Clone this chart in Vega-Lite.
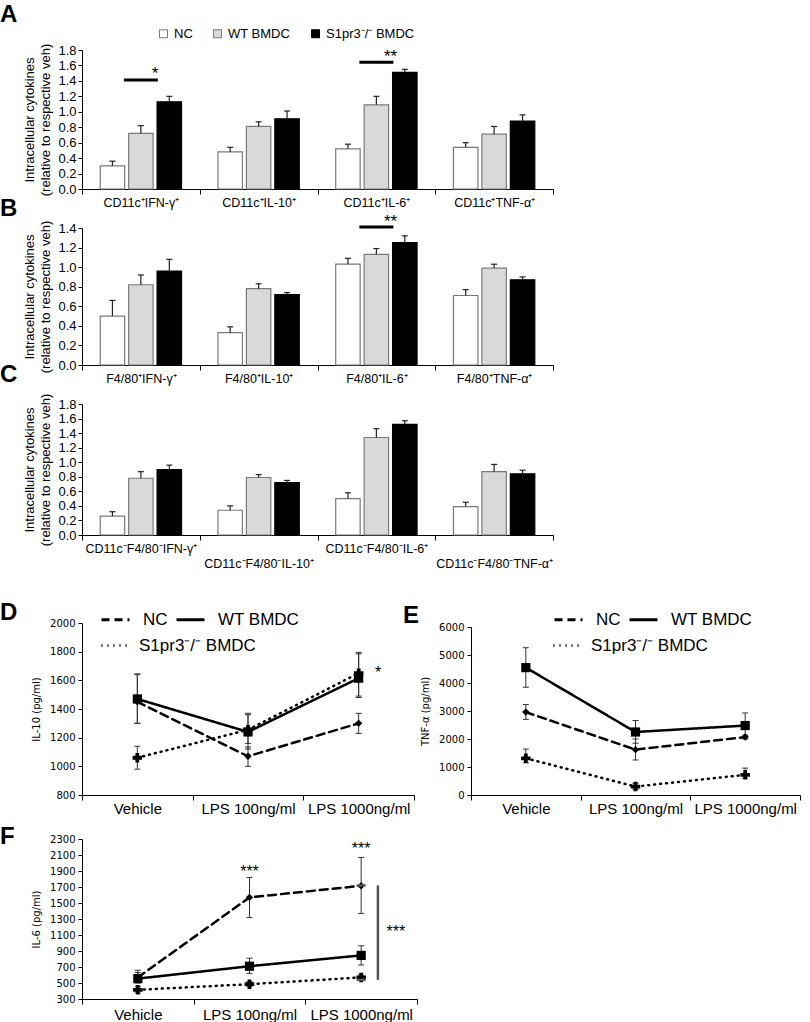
{
"$schema": "https://vega.github.io/schema/vega-lite/v6.json",
"background": "white",
"padding": {"left": 0, "top": 3, "right": 5, "bottom": 5},
"bounds": "flush",
"spacing": 0,
"resolve": {"scale": {"fill": "independent", "stroke": "independent", "shape": "independent", "size": "independent", "strokeDash": "independent"},
            "legend": {"fill": "independent", "stroke": "independent", "shape": "independent", "size": "independent", "strokeDash": "independent"}},
"config": {
  "view": {"stroke": null},
  "font": "Liberation Sans",
  "axis": {"domainColor": "black", "tickColor": "black", "labelColor": "black", "titleColor": "black", "grid": false, "titleFontWeight": "normal"},
  "title": {"fontSize": 24, "fontWeight": "bold", "anchor": "start", "frame": "group", "color": "black"},
  "legend": {"padding": 0, "labelColor": "black"}
},
"vconcat": [
{
 "width": 471, "height": 139,
 "title": {"text": "A", "dx": -82, "offset": 0},
 "data": {"values": [
  {"cat":"CD11c⁺IFN-γ⁺","group":"NC","value":0.30,"hi":0.36},
  {"cat":"CD11c⁺IFN-γ⁺","group":"WT BMDC","value":0.72,"hi":0.82},
  {"cat":"CD11c⁺IFN-γ⁺","group":"S1pr3⁻/⁻ BMDC","value":1.13,"hi":1.20},
  {"cat":"CD11c⁺IL-10⁺","group":"NC","value":0.48,"hi":0.54},
  {"cat":"CD11c⁺IL-10⁺","group":"WT BMDC","value":0.81,"hi":0.87},
  {"cat":"CD11c⁺IL-10⁺","group":"S1pr3⁻/⁻ BMDC","value":0.91,"hi":1.01},
  {"cat":"CD11c⁺IL-6⁺","group":"NC","value":0.52,"hi":0.58},
  {"cat":"CD11c⁺IL-6⁺","group":"WT BMDC","value":1.09,"hi":1.20},
  {"cat":"CD11c⁺IL-6⁺","group":"S1pr3⁻/⁻ BMDC","value":1.51,"hi":1.55},
  {"cat":"CD11c⁺TNF-α⁺","group":"NC","value":0.54,"hi":0.60},
  {"cat":"CD11c⁺TNF-α⁺","group":"WT BMDC","value":0.71,"hi":0.81},
  {"cat":"CD11c⁺TNF-α⁺","group":"S1pr3⁻/⁻ BMDC","value":0.88,"hi":0.96}
 ]},
 "layer": [
  {"mark": {"type": "bar", "strokeWidth": 1.2},
   "encoding": {
    "x": {"field": "cat", "type": "nominal", "scale": {"domain": ["CD11c⁺IFN-γ⁺","CD11c⁺IL-10⁺","CD11c⁺IL-6⁺","CD11c⁺TNF-α⁺"], "paddingInner": 0, "paddingOuter": 0},
          "axis": {"title": null, "tickBand": "extent", "labelAngle": 0, "labelFontSize": 12.5, "labelPadding": 2, "tickSize": 5, "labelOverlap": false, "labelLimit": 0}},
    "xOffset": {"field": "group", "type": "nominal", "scale": {"domain": ["NC","WT BMDC","S1pr3⁻/⁻ BMDC"], "paddingInner": 0.14, "paddingOuter": 0.64}},
    "y": {"field": "value", "type": "quantitative", "scale": {"domain": [0, 1.8], "nice": false},
          "axis": {"title": ["Intracellular cytokines", "(relative to respective veh)"], "titleFontSize": 13, "titleLineHeight": 16, "labelFontSize": 13, "values": [0,0.2,0.4,0.6,0.8,1.0,1.2,1.4,1.6,1.8], "tickCount": 50, "labelOverlap": false, "format": ".1f", "tickSize": 4, "labelPadding": 2, "titlePadding": 5}},
    "fill": {"field": "group", "type": "nominal", "scale": {"domain": ["NC","WT BMDC","S1pr3⁻/⁻ BMDC"], "range": ["#ffffff","#d9d9d9","#000000"]},
             "legend": {"orient": "none", "legendX": 75, "legendY": -23, "direction": "horizontal", "columns": 3, "title": null, "labelFontSize": 13, "symbolType": "square", "symbolSize": 64, "symbolStrokeWidth": 1, "columnPadding": 18, "labelOffset": 4}},
    "stroke": {"field": "group", "type": "nominal", "scale": {"domain": ["NC","WT BMDC","S1pr3⁻/⁻ BMDC"], "range": ["#7a7a7a","#7a7a7a","#000000"]},
             "legend": {"orient": "none", "legendX": 75, "legendY": -23, "direction": "horizontal", "columns": 3, "title": null, "labelFontSize": 13, "symbolType": "square", "symbolSize": 64, "symbolStrokeWidth": 1, "columnPadding": 18, "labelOffset": 4}}
   }},
  {"mark": {"type": "rule", "color": "#222", "strokeWidth": 1.2},
   "encoding": {"x": {"field": "cat", "type": "nominal"}, "xOffset": {"field": "group", "type": "nominal"}, "y": {"field": "value", "type": "quantitative"}, "y2": {"field": "hi"}}},
  {"mark": {"type": "tick", "color": "#222", "size": 6, "thickness": 1.2, "opacity": 1},
   "encoding": {"x": {"field": "cat", "type": "nominal"}, "xOffset": {"field": "group", "type": "nominal"}, "y": {"field": "hi", "type": "quantitative"}}},
  {"data": {"values": [{"cat":"CD11c⁺IFN-γ⁺","y":1.41,"ty":1.42,"lab":"*"},{"cat":"CD11c⁺IL-6⁺","y":1.64,"ty":1.65,"lab":"**"}]},
   "mark": {"type": "tick", "color": "black", "size": 34, "thickness": 3, "opacity": 1},
   "encoding": {"x": {"field": "cat", "type": "nominal", "bandPosition": 0.62}, "y": {"field": "y", "type": "quantitative"}}},
  {"data": {"values": [{"cat":"CD11c⁺IFN-γ⁺","y":1.41,"ty":1.42,"lab":"*"},{"cat":"CD11c⁺IL-6⁺","y":1.64,"ty":1.65,"lab":"**"}]},
   "mark": {"type": "text", "fontSize": 17, "baseline": "alphabetic", "color": "black"},
   "encoding": {"x": {"field": "cat", "type": "nominal", "bandPosition": 0.62}, "y": {"field": "ty", "type": "quantitative"}, "text": {"field": "lab"}}}
 ]
},
{"width": 1, "height": 39, "data": {"values": [{"a": 1}]}, "mark": {"type": "point", "opacity": 0}, "encoding": {}},
{
 "width": 471, "height": 137,
 "title": {"text": "B", "dx": -82, "offset": -8},
 "data": {"values": [
  {"cat":"F4/80⁺IFN-γ⁺","group":"NC","value":0.50,"hi":0.66},
  {"cat":"F4/80⁺IFN-γ⁺","group":"WT BMDC","value":0.82,"hi":0.92},
  {"cat":"F4/80⁺IFN-γ⁺","group":"S1pr3⁻/⁻ BMDC","value":0.96,"hi":1.08},
  {"cat":"F4/80⁺IL-10⁺","group":"NC","value":0.33,"hi":0.39},
  {"cat":"F4/80⁺IL-10⁺","group":"WT BMDC","value":0.78,"hi":0.83},
  {"cat":"F4/80⁺IL-10⁺","group":"S1pr3⁻/⁻ BMDC","value":0.72,"hi":0.74},
  {"cat":"F4/80⁺IL-6⁺","group":"NC","value":1.03,"hi":1.09},
  {"cat":"F4/80⁺IL-6⁺","group":"WT BMDC","value":1.13,"hi":1.19},
  {"cat":"F4/80⁺IL-6⁺","group":"S1pr3⁻/⁻ BMDC","value":1.25,"hi":1.32},
  {"cat":"F4/80⁺TNF-α⁺","group":"NC","value":0.71,"hi":0.77},
  {"cat":"F4/80⁺TNF-α⁺","group":"WT BMDC","value":0.99,"hi":1.03},
  {"cat":"F4/80⁺TNF-α⁺","group":"S1pr3⁻/⁻ BMDC","value":0.87,"hi":0.90}
 ]},
 "layer": [
  {"mark": {"type": "bar", "strokeWidth": 1.2},
   "encoding": {
    "x": {"field": "cat", "type": "nominal", "scale": {"domain": ["F4/80⁺IFN-γ⁺","F4/80⁺IL-10⁺","F4/80⁺IL-6⁺","F4/80⁺TNF-α⁺"], "paddingInner": 0, "paddingOuter": 0},
          "axis": {"title": null, "tickBand": "extent", "labelAngle": 0, "labelFontSize": 12.5, "labelPadding": 2, "tickSize": 5, "labelOverlap": false, "labelLimit": 0}},
    "xOffset": {"field": "group", "type": "nominal", "scale": {"domain": ["NC","WT BMDC","S1pr3⁻/⁻ BMDC"], "paddingInner": 0.14, "paddingOuter": 0.64}},
    "y": {"field": "value", "type": "quantitative", "scale": {"domain": [0, 1.4], "nice": false},
          "axis": {"title": ["Intracellular cytokines", "(relative to respective veh)"], "titleFontSize": 13, "titleLineHeight": 16, "labelFontSize": 13, "values": [0,0.2,0.4,0.6,0.8,1.0,1.2,1.4], "tickCount": 50, "labelOverlap": false, "format": ".1f", "tickSize": 4, "labelPadding": 2, "titlePadding": 5}},
    "fill": {"field": "group", "type": "nominal", "scale": {"domain": ["NC","WT BMDC","S1pr3⁻/⁻ BMDC"], "range": ["#ffffff","#d9d9d9","#000000"]}, "legend": null},
    "stroke": {"field": "group", "type": "nominal", "scale": {"domain": ["NC","WT BMDC","S1pr3⁻/⁻ BMDC"], "range": ["#7a7a7a","#7a7a7a","#000000"]}, "legend": null}
   }},
  {"mark": {"type": "rule", "color": "#222", "strokeWidth": 1.2},
   "encoding": {"x": {"field": "cat", "type": "nominal"}, "xOffset": {"field": "group", "type": "nominal"}, "y": {"field": "value", "type": "quantitative"}, "y2": {"field": "hi"}}},
  {"mark": {"type": "tick", "color": "#222", "size": 6, "thickness": 1.2, "opacity": 1},
   "encoding": {"x": {"field": "cat", "type": "nominal"}, "xOffset": {"field": "group", "type": "nominal"}, "y": {"field": "hi", "type": "quantitative"}}},
  {"data": {"values": [{"cat":"F4/80⁺IL-6⁺","y":1.41,"ty":1.41,"lab":"**"}]},
   "mark": {"type": "tick", "color": "black", "size": 34, "thickness": 3, "opacity": 1},
   "encoding": {"x": {"field": "cat", "type": "nominal", "bandPosition": 0.62}, "y": {"field": "y", "type": "quantitative"}}},
  {"data": {"values": [{"cat":"F4/80⁺IL-6⁺","y":1.41,"ty":1.41,"lab":"**"}]},
   "mark": {"type": "text", "fontSize": 17, "baseline": "alphabetic", "color": "black"},
   "encoding": {"x": {"field": "cat", "type": "nominal", "bandPosition": 0.62}, "y": {"field": "ty", "type": "quantitative"}, "text": {"field": "lab"}}}
 ]
},
{"width": 1, "height": 39, "data": {"values": [{"a": 1}]}, "mark": {"type": "point", "opacity": 0}, "encoding": {}},
{
 "width": 471, "height": 131,
 "title": {"text": "C", "dx": -82, "offset": 6},
 "data": {"values": [
  {"cat":"CD11c⁻F4/80⁻IFN-γ⁺","group":"NC","value":0.26,"hi":0.32},
  {"cat":"CD11c⁻F4/80⁻IFN-γ⁺","group":"WT BMDC","value":0.78,"hi":0.87},
  {"cat":"CD11c⁻F4/80⁻IFN-γ⁺","group":"S1pr3⁻/⁻ BMDC","value":0.90,"hi":0.96},
  {"cat":"CD11c⁻F4/80⁻IL-10⁺","group":"NC","value":0.34,"hi":0.40},
  {"cat":"CD11c⁻F4/80⁻IL-10⁺","group":"WT BMDC","value":0.79,"hi":0.83},
  {"cat":"CD11c⁻F4/80⁻IL-10⁺","group":"S1pr3⁻/⁻ BMDC","value":0.72,"hi":0.75},
  {"cat":"CD11c⁻F4/80⁻IL-6⁺","group":"NC","value":0.50,"hi":0.58},
  {"cat":"CD11c⁻F4/80⁻IL-6⁺","group":"WT BMDC","value":1.34,"hi":1.46},
  {"cat":"CD11c⁻F4/80⁻IL-6⁺","group":"S1pr3⁻/⁻ BMDC","value":1.52,"hi":1.57},
  {"cat":"CD11c⁻F4/80⁻TNF-α⁺","group":"NC","value":0.39,"hi":0.45},
  {"cat":"CD11c⁻F4/80⁻TNF-α⁺","group":"WT BMDC","value":0.87,"hi":0.97},
  {"cat":"CD11c⁻F4/80⁻TNF-α⁺","group":"S1pr3⁻/⁻ BMDC","value":0.84,"hi":0.89}
 ]},
 "layer": [
  {"mark": {"type": "bar", "strokeWidth": 1.2},
   "encoding": {
    "x": {"field": "cat", "type": "nominal", "scale": {"domain": ["CD11c⁻F4/80⁻IFN-γ⁺","CD11c⁻F4/80⁻IL-10⁺","CD11c⁻F4/80⁻IL-6⁺","CD11c⁻F4/80⁻TNF-α⁺"], "paddingInner": 0, "paddingOuter": 0},
          "axis": {"title": null, "tickBand": "extent", "labelAngle": 0, "labelFontSize": 12.5, "labelPadding": 2, "tickSize": 5, "labelOverlap": false, "labelLimit": 0, "labelLineHeight": 15,
                   "labelExpr": "indexof(datum.label, 'IL-10') >= 0 || indexof(datum.label, 'TNF') >= 0 ? ['', datum.label] : datum.label"}},
    "xOffset": {"field": "group", "type": "nominal", "scale": {"domain": ["NC","WT BMDC","S1pr3⁻/⁻ BMDC"], "paddingInner": 0.14, "paddingOuter": 0.64}},
    "y": {"field": "value", "type": "quantitative", "scale": {"domain": [0, 1.8], "nice": false},
          "axis": {"title": ["Intracellular cytokines", "(relative to respective veh)"], "titleFontSize": 13, "titleLineHeight": 16, "labelFontSize": 13, "values": [0,0.2,0.4,0.6,0.8,1.0,1.2,1.4,1.6,1.8], "tickCount": 50, "labelOverlap": false, "format": ".1f", "tickSize": 4, "labelPadding": 2, "titlePadding": 5}},
    "fill": {"field": "group", "type": "nominal", "scale": {"domain": ["NC","WT BMDC","S1pr3⁻/⁻ BMDC"], "range": ["#ffffff","#d9d9d9","#000000"]}, "legend": null},
    "stroke": {"field": "group", "type": "nominal", "scale": {"domain": ["NC","WT BMDC","S1pr3⁻/⁻ BMDC"], "range": ["#7a7a7a","#7a7a7a","#000000"]}, "legend": null}
   }},
  {"mark": {"type": "rule", "color": "#222", "strokeWidth": 1.2},
   "encoding": {"x": {"field": "cat", "type": "nominal"}, "xOffset": {"field": "group", "type": "nominal"}, "y": {"field": "value", "type": "quantitative"}, "y2": {"field": "hi"}}},
  {"mark": {"type": "tick", "color": "#222", "size": 6, "thickness": 1.2, "opacity": 1},
   "encoding": {"x": {"field": "cat", "type": "nominal"}, "xOffset": {"field": "group", "type": "nominal"}, "y": {"field": "hi", "type": "quantitative"}}}
 ]
},
{"width": 1, "height": 88, "data": {"values": [{"a": 1}]}, "mark": {"type": "point", "opacity": 0}, "encoding": {}},
{
 "width": 718, "height": 172,
 "title": {"text": "D", "dx": -82, "offset": -21},
 "resolve": {"scale": {"x": "independent", "y": "independent", "strokeDash": "independent"},
             "axis": {"x": "independent", "y": "independent"},
             "legend": {"strokeDash": "independent"}},
 "layer": [
  {
   "data": {"values": [
    {"treat":"Vehicle","group":"NC","mean":1450,"lo":1300,"hi":1640},
    {"treat":"LPS 100ng/ml","group":"NC","mean":1070,"lo":1000,"hi":1135},
    {"treat":"LPS 1000ng/ml","group":"NC","mean":1300,"lo":1230,"hi":1370},
    {"treat":"Vehicle","group":"WT BMDC","mean":1470,"lo":1300,"hi":1645},
    {"treat":"LPS 100ng/ml","group":"WT BMDC","mean":1240,"lo":1120,"hi":1370},
    {"treat":"LPS 1000ng/ml","group":"WT BMDC","mean":1615,"lo":1480,"hi":1785},
    {"treat":"Vehicle","group":"S1pr3⁻/⁻ BMDC","mean":1060,"lo":980,"hi":1140},
    {"treat":"LPS 100ng/ml","group":"S1pr3⁻/⁻ BMDC","mean":1255,"lo":1160,"hi":1360},
    {"treat":"LPS 1000ng/ml","group":"S1pr3⁻/⁻ BMDC","mean":1650,"lo":1490,"hi":1795}
   ]},
   "resolve": {"scale": {"strokeDash": "independent"}, "legend": {"strokeDash": "independent"}},
   "layer": [
    {"mark": {"type": "rule", "color": "#333", "strokeWidth": 1},
     "encoding": {
      "x": {"field": "treat", "type": "nominal", "scale": {"domain": ["Vehicle","LPS 100ng/ml","LPS 1000ng/ml"], "range": [0, 332], "paddingInner": 0, "paddingOuter": 0},
            "axis": {"orient": "bottom", "title": null, "tickBand": "extent", "labelAngle": 0, "labelFontSize": 15, "labelPadding": 1, "tickSize": 5, "labelOverlap": false}},
      "y": {"field": "lo", "type": "quantitative", "scale": {"domain": [800, 2000], "nice": false},
            "axis": {"orient": "left", "title": "IL-10 (pg/ml)", "titleFont": "DejaVu Sans", "titleFontSize": 10, "labelFont": "DejaVu Sans", "labelFontSize": 10, "values": [800,1000,1200,1400,1600,1800,2000], "tickCount": 50, "labelOverlap": false, "format": "d", "tickSize": 4, "labelPadding": 3, "titlePadding": 8}},
      "y2": {"field": "hi"}}},
    {"mark": {"type": "tick", "color": "#333", "size": 6, "thickness": 1, "opacity": 1},
     "encoding": {"x": {"field": "treat", "type": "nominal"}, "y": {"field": "lo", "type": "quantitative"}}},
    {"mark": {"type": "tick", "color": "#333", "size": 6, "thickness": 1, "opacity": 1},
     "encoding": {"x": {"field": "treat", "type": "nominal"}, "y": {"field": "hi", "type": "quantitative"}}},
    {"transform": [{"filter": "datum.group == 'NC' || datum.group == 'WT BMDC'"}],
     "mark": {"type": "line", "color": "black", "strokeWidth": 2.5, "strokeCap": "round"},
     "encoding": {"x": {"field": "treat", "type": "nominal"}, "y": {"field": "mean", "type": "quantitative"}, "order": {"value": null},
      "strokeDash": {"field": "group", "type": "nominal", "scale": {"domain": ["NC","WT BMDC"], "range": [[8,5],[1,0]]},
       "legend": {"orient": "none", "legendX": 18, "legendY": -19, "direction": "horizontal", "title": null, "labelFontSize": 17, "symbolType": "stroke", "symbolSize": 784, "symbolStrokeWidth": 2.8, "symbolStrokeColor": "black", "columnPadding": 2, "labelOffset": 12}}}},
    {"transform": [{"filter": "indexof(datum.group, 'S1pr3') == 0"}],
     "mark": {"type": "line", "color": "black", "strokeWidth": 2.5, "strokeCap": "round"},
     "encoding": {"x": {"field": "treat", "type": "nominal"}, "y": {"field": "mean", "type": "quantitative"}, "order": {"value": null},
      "strokeDash": {"field": "group", "type": "nominal", "scale": {"domain": ["S1pr3⁻/⁻ BMDC"], "range": [[1,5]]},
       "legend": {"orient": "none", "legendX": 18, "legendY": 7, "direction": "horizontal", "title": null, "labelFontSize": 17, "symbolType": "stroke", "symbolSize": 784, "symbolStrokeWidth": 2.8, "symbolStrokeColor": "black", "labelOffset": 8}}}},
    {"transform": [{"filter": "datum.group == 'NC'"}],
     "mark": {"type": "point", "shape": "diamond", "size": 55, "filled": true, "color": "black", "opacity": 1},
     "encoding": {"x": {"field": "treat", "type": "nominal"}, "y": {"field": "mean", "type": "quantitative"}}},
    {"transform": [{"filter": "datum.group == 'WT BMDC'"}],
     "mark": {"type": "point", "shape": "square", "size": 85, "filled": true, "color": "black", "opacity": 1},
     "encoding": {"x": {"field": "treat", "type": "nominal"}, "y": {"field": "mean", "type": "quantitative"}}},
    {"transform": [{"filter": "indexof(datum.group, 'S1pr3') == 0"}],
     "mark": {"type": "point", "shape": "cross", "size": 90, "filled": true, "color": "black", "opacity": 1},
     "encoding": {"x": {"field": "treat", "type": "nominal"}, "y": {"field": "mean", "type": "quantitative"}}},
    {"data": {"values": [{"treat":"LPS 1000ng/ml","ty":1615,"lab":"*"}]},
     "mark": {"type": "text", "fontSize": 16, "baseline": "alphabetic", "color": "black"},
     "encoding": {"x": {"field": "treat", "type": "nominal", "bandPosition": 0.675}, "y": {"field": "ty", "type": "quantitative"}, "text": {"field": "lab"}}}
   ]
  },
  {
   "data": {"values": [
    {"treat":"Vehicle","group":"NC","mean":2960,"lo":2700,"hi":3230},
    {"treat":"LPS 100ng/ml","group":"NC","mean":1620,"lo":1250,"hi":2000},
    {"treat":"LPS 1000ng/ml","group":"NC","mean":2070,"lo":2000,"hi":2140},
    {"treat":"Vehicle","group":"WT BMDC","mean":4550,"lo":3850,"hi":5260},
    {"treat":"LPS 100ng/ml","group":"WT BMDC","mean":2250,"lo":1850,"hi":2660},
    {"treat":"LPS 1000ng/ml","group":"WT BMDC","mean":2480,"lo":2050,"hi":2930},
    {"treat":"Vehicle","group":"S1pr3⁻/⁻ BMDC","mean":1310,"lo":1150,"hi":1640},
    {"treat":"LPS 100ng/ml","group":"S1pr3⁻/⁻ BMDC","mean":300,"lo":200,"hi":420},
    {"treat":"LPS 1000ng/ml","group":"S1pr3⁻/⁻ BMDC","mean":720,"lo":600,"hi":960}
   ]},
   "resolve": {"scale": {"strokeDash": "independent"}, "legend": {"strokeDash": "independent"}},
   "layer": [
    {"mark": {"type": "rule", "color": "#333", "strokeWidth": 1},
     "encoding": {
      "x": {"field": "treat", "type": "nominal", "scale": {"domain": ["Vehicle","LPS 100ng/ml","LPS 1000ng/ml"], "range": [389, 718], "paddingInner": 0, "paddingOuter": 0},
            "axis": {"orient": "bottom", "title": null, "tickBand": "extent", "labelAngle": 0, "labelFontSize": 15, "labelPadding": 1, "tickSize": 5, "labelOverlap": false}},
      "y": {"field": "lo", "type": "quantitative", "scale": {"domain": [0, 6000], "range": [172, 4], "nice": false},
            "axis": {"orient": "left", "offset": -389, "title": "TNF-α (pg/ml)", "titleFont": "DejaVu Sans", "titleFontSize": 10, "labelFont": "DejaVu Sans", "labelFontSize": 10, "values": [0,1000,2000,3000,4000,5000,6000], "tickCount": 50, "labelOverlap": false, "format": "d", "tickSize": 4, "labelPadding": 3, "titlePadding": 8}},
      "y2": {"field": "hi"}}},
    {"mark": {"type": "tick", "color": "#333", "size": 6, "thickness": 1, "opacity": 1},
     "encoding": {"x": {"field": "treat", "type": "nominal"}, "y": {"field": "lo", "type": "quantitative"}}},
    {"mark": {"type": "tick", "color": "#333", "size": 6, "thickness": 1, "opacity": 1},
     "encoding": {"x": {"field": "treat", "type": "nominal"}, "y": {"field": "hi", "type": "quantitative"}}},
    {"transform": [{"filter": "datum.group == 'NC' || datum.group == 'WT BMDC'"}],
     "mark": {"type": "line", "color": "black", "strokeWidth": 2.5, "strokeCap": "round"},
     "encoding": {"x": {"field": "treat", "type": "nominal"}, "y": {"field": "mean", "type": "quantitative"}, "order": {"value": null},
      "strokeDash": {"field": "group", "type": "nominal", "scale": {"domain": ["NC","WT BMDC"], "range": [[8,5],[1,0]]},
       "legend": {"orient": "none", "legendX": 321, "legendY": -19, "direction": "horizontal", "title": "E", "titleOrient": "left", "titleFontSize": 24, "titleFontWeight": "bold", "titleColor": "black", "titleBaseline": "top", "titleAnchor": "start", "titlePadding": 133, "labelFontSize": 17, "symbolType": "stroke", "symbolSize": 784, "symbolStrokeWidth": 2.8, "symbolStrokeColor": "black", "columnPadding": 2, "labelOffset": 12}}}},
    {"transform": [{"filter": "indexof(datum.group, 'S1pr3') == 0"}],
     "mark": {"type": "line", "color": "black", "strokeWidth": 2.5, "strokeCap": "round"},
     "encoding": {"x": {"field": "treat", "type": "nominal"}, "y": {"field": "mean", "type": "quantitative"}, "order": {"value": null},
      "strokeDash": {"field": "group", "type": "nominal", "scale": {"domain": ["S1pr3⁻/⁻ BMDC"], "range": [[1,5]]},
       "legend": {"orient": "none", "legendX": 470, "legendY": 7, "direction": "horizontal", "title": null, "labelFontSize": 17, "symbolType": "stroke", "symbolSize": 784, "symbolStrokeWidth": 2.8, "symbolStrokeColor": "black", "labelOffset": 8}}}},
    {"transform": [{"filter": "datum.group == 'NC'"}],
     "mark": {"type": "point", "shape": "diamond", "size": 55, "filled": true, "color": "black", "opacity": 1},
     "encoding": {"x": {"field": "treat", "type": "nominal"}, "y": {"field": "mean", "type": "quantitative"}}},
    {"transform": [{"filter": "datum.group == 'WT BMDC'"}],
     "mark": {"type": "point", "shape": "square", "size": 85, "filled": true, "color": "black", "opacity": 1},
     "encoding": {"x": {"field": "treat", "type": "nominal"}, "y": {"field": "mean", "type": "quantitative"}}},
    {"transform": [{"filter": "indexof(datum.group, 'S1pr3') == 0"}],
     "mark": {"type": "point", "shape": "cross", "size": 90, "filled": true, "color": "black", "opacity": 1},
     "encoding": {"x": {"field": "treat", "type": "nominal"}, "y": {"field": "mean", "type": "quantitative"}}}
   ]
  }
 ]
},
{"width": 1, "height": 44, "data": {"values": [{"a": 1}]}, "mark": {"type": "point", "opacity": 0}, "encoding": {}},
{
 "width": 335, "height": 160,
 "title": {"text": "F", "dx": -82, "offset": -15},
 "data": {"values": [
  {"treat":"Vehicle","group":"NC","mean":570,"lo":510,"hi":630},
  {"treat":"LPS 100ng/ml","group":"NC","mean":1570,"lo":1320,"hi":1820},
  {"treat":"LPS 1000ng/ml","group":"NC","mean":1715,"lo":1370,"hi":2070},
  {"treat":"Vehicle","group":"WT BMDC","mean":555,"lo":500,"hi":660},
  {"treat":"LPS 100ng/ml","group":"WT BMDC","mean":710,"lo":620,"hi":810},
  {"treat":"LPS 1000ng/ml","group":"WT BMDC","mean":845,"lo":725,"hi":965},
  {"treat":"Vehicle","group":"S1pr3⁻/⁻ BMDC","mean":415,"lo":375,"hi":455},
  {"treat":"LPS 100ng/ml","group":"S1pr3⁻/⁻ BMDC","mean":485,"lo":455,"hi":520},
  {"treat":"LPS 1000ng/ml","group":"S1pr3⁻/⁻ BMDC","mean":570,"lo":540,"hi":600}
 ]},
 "layer": [
  {"mark": {"type": "rule", "color": "#333", "strokeWidth": 1},
   "encoding": {
    "x": {"field": "treat", "type": "nominal", "scale": {"domain": ["Vehicle","LPS 100ng/ml","LPS 1000ng/ml"], "paddingInner": 0, "paddingOuter": 0},
          "axis": {"title": null, "tickBand": "extent", "labelAngle": 0, "labelFontSize": 15, "labelPadding": 3, "tickSize": 5, "labelOverlap": false}},
    "y": {"field": "lo", "type": "quantitative", "scale": {"domain": [300, 2300], "nice": false},
          "axis": {"title": "IL-6 (pg/ml)", "titleFont": "DejaVu Sans", "titleFontSize": 10, "labelFont": "DejaVu Sans", "labelFontSize": 10, "values": [300,500,700,900,1100,1300,1500,1700,1900,2100,2300], "tickCount": 50, "labelOverlap": false, "format": "d", "tickSize": 4, "labelPadding": 3, "titlePadding": 8}},
    "y2": {"field": "hi"}}},
  {"mark": {"type": "tick", "color": "#333", "size": 6, "thickness": 1, "opacity": 1},
   "encoding": {"x": {"field": "treat", "type": "nominal"}, "y": {"field": "lo", "type": "quantitative"}}},
  {"mark": {"type": "tick", "color": "#333", "size": 6, "thickness": 1, "opacity": 1},
   "encoding": {"x": {"field": "treat", "type": "nominal"}, "y": {"field": "hi", "type": "quantitative"}}},
  {"mark": {"type": "line", "color": "black", "strokeWidth": 2.5, "strokeCap": "round"},
   "encoding": {"x": {"field": "treat", "type": "nominal"}, "y": {"field": "mean", "type": "quantitative"}, "order": {"value": null},
    "strokeDash": {"field": "group", "type": "nominal", "scale": {"domain": ["NC","WT BMDC","S1pr3⁻/⁻ BMDC"], "range": [[8,5],[1,0],[1,5]]}, "legend": null}}},
  {"transform": [{"filter": "datum.group == 'NC'"}],
   "mark": {"type": "point", "shape": "diamond", "size": 55, "filled": true, "color": "black", "opacity": 1},
   "encoding": {"x": {"field": "treat", "type": "nominal"}, "y": {"field": "mean", "type": "quantitative"}}},
  {"transform": [{"filter": "datum.group == 'WT BMDC'"}],
   "mark": {"type": "point", "shape": "square", "size": 85, "filled": true, "color": "black", "opacity": 1},
   "encoding": {"x": {"field": "treat", "type": "nominal"}, "y": {"field": "mean", "type": "quantitative"}}},
  {"transform": [{"filter": "indexof(datum.group, 'S1pr3') == 0"}],
   "mark": {"type": "point", "shape": "cross", "size": 90, "filled": true, "color": "black", "opacity": 1},
   "encoding": {"x": {"field": "treat", "type": "nominal"}, "y": {"field": "mean", "type": "quantitative"}}},
  {"data": {"values": [{"treat":"LPS 100ng/ml","ty":1830,"lab":"***"},{"treat":"LPS 1000ng/ml","ty":2110,"lab":"***"}]},
   "mark": {"type": "text", "fontSize": 16, "baseline": "alphabetic", "color": "black"},
   "encoding": {"x": {"field": "treat", "type": "nominal"}, "y": {"field": "ty", "type": "quantitative"}, "text": {"field": "lab"}}},
  {"data": {"values": [{"treat":"LPS 1000ng/ml","ty":1070,"lab":"***"}]},
   "mark": {"type": "text", "fontSize": 16, "baseline": "alphabetic", "color": "black"},
   "encoding": {"x": {"field": "treat", "type": "nominal", "bandPosition": 0.81}, "y": {"field": "ty", "type": "quantitative"}, "text": {"field": "lab"}}},
  {"data": {"values": [{"treat":"LPS 1000ng/ml","b1":540,"b2":1720}]},
   "mark": {"type": "rule", "color": "#555", "strokeWidth": 2.5},
   "encoding": {"x": {"field": "treat", "type": "nominal", "bandPosition": 0.65}, "y": {"field": "b1", "type": "quantitative"}, "y2": {"field": "b2"}}},
  {"data": {"values": [{"treat":"LPS 1000ng/ml","b1":540,"b2":1720}]},
   "mark": {"type": "tick", "color": "#555", "size": 9, "thickness": 2.5, "opacity": 1},
   "encoding": {"x": {"field": "treat", "type": "nominal", "bandPosition": 0.615}, "y": {"field": "b1", "type": "quantitative"}}},
  {"data": {"values": [{"treat":"LPS 1000ng/ml","b1":540,"b2":1720}]},
   "mark": {"type": "tick", "color": "#555", "size": 9, "thickness": 2.5, "opacity": 1},
   "encoding": {"x": {"field": "treat", "type": "nominal", "bandPosition": 0.615}, "y": {"field": "b2", "type": "quantitative"}}}
 ]
}
]
}
